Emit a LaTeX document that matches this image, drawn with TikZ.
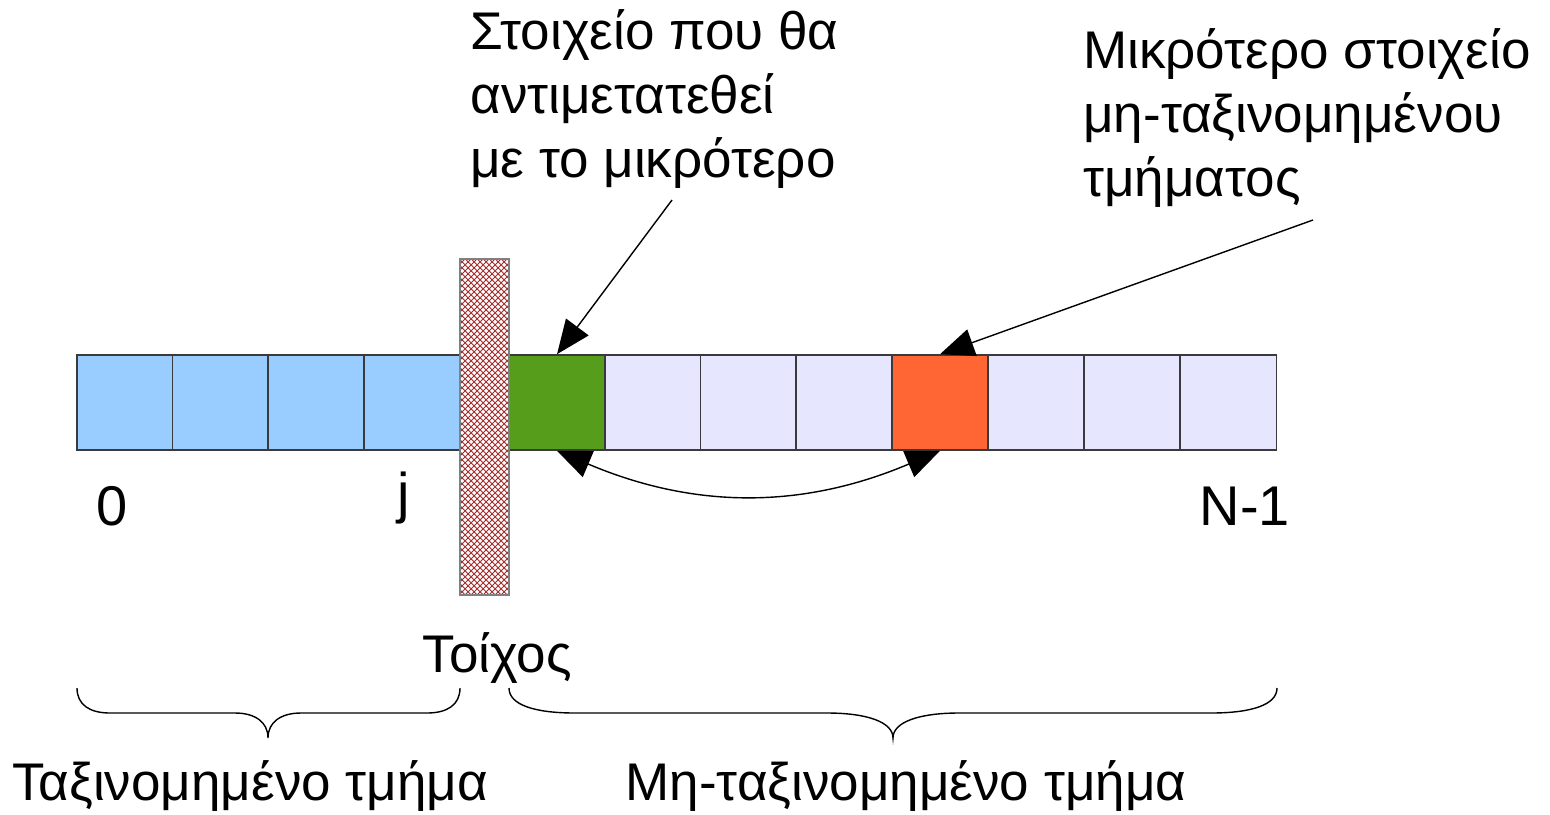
\documentclass[tikz,border=0pt]{standalone}
\usepackage{fontspec}
\setmainfont{Liberation Sans}
\usetikzlibrary{arrows.meta,patterns,positioning}
\definecolor{sortedblue}{HTML}{99CCFF}
\definecolor{unsortedlav}{HTML}{E6E6FF}
\definecolor{swapgreen}{HTML}{579D1C}
\definecolor{minorange}{HTML}{FF6633}
\definecolor{wallred}{HTML}{A52A2A}
\definecolor{cellborder}{HTML}{3A3A3A}
\tikzset{
  cell/.style={draw=cellborder, line width=0.8pt, minimum width=48pt, minimum height=47.5pt, inner sep=0pt},
  lbl/.style={inner sep=0pt, font=\fontsize{26.5}{32}\selectfont, align=left},
  idx/.style={inner sep=0pt, font=\fontsize{28}{32}\selectfont},
  part/.style={inner sep=0pt, font=\fontsize{26.5}{32}\selectfont},
  pointer/.style={line width=0.7pt, -{Triangle[length=17pt,width=14pt]}},
  swap/.style={line width=0.7pt, {Triangle[length=17pt,width=14pt]}-{Triangle[length=17pt,width=14pt]}},
  bracepath/.style={line width=0.7pt}
}
\begin{document}
\begin{tikzpicture}[x=0.5pt,y=-0.5pt]
\useasboundingbox (0,0) rectangle (1550,814);
% sorted part
\node[cell, fill=sortedblue] (s0) at (125,402.5) {};
\node[cell, fill=sortedblue] (s1) at (220.5,402.5) {};
\node[cell, fill=sortedblue] (s2) at (316,402.5) {};
\node[cell, fill=sortedblue] (s3) at (412,402.5) {};
% unsorted part
\node[cell, fill=swapgreen] (g) at (557,402.5) {};
\node[cell, fill=unsortedlav] (u1) at (653,402.5) {};
\node[cell, fill=unsortedlav] (u2) at (748.5,402.5) {};
\node[cell, fill=unsortedlav] (u3) at (844,402.5) {};
\node[cell, fill=minorange] (o) at (940,402.5) {};
\node[cell, fill=unsortedlav] (u5) at (1036,402.5) {};
\node[cell, fill=unsortedlav] (u6) at (1132,402.5) {};
\node[cell, fill=unsortedlav] (u7) at (1228.5,402.5) {};
% the wall
\node[draw=gray, line width=0.8pt, preaction={fill=white}, pattern=crosshatch, pattern color=wallred,
      minimum width=24.5pt, minimum height=168pt, inner sep=0pt] (wall) at (484.5,427) {};
% index labels
\node[idx, anchor=base] (i0) at (112,525) {0};
\node[idx, anchor=base] (ij) at (404,512) {j};
\node[idx, anchor=base] (in) at (1245,525) {N-1};
\node[part, anchor=base] (wl) at (497,672) {Τοίχος};
% annotations
\node[lbl, anchor=north west] (t1) at (470,9) {Στοιχείο που θα\\αντιμετατεθεί\\με το μικρότερο};
\node[lbl, anchor=north west] (t2) at (1083,28) {Μικρότερο στοιχείο\\μη-ταξινομημένου\\τμήματος};
\coordinate (p1) at (672,200);
\coordinate (p2) at (1313,220);
\draw[pointer] (p1) -- (g.north);
\draw[pointer] (p2) -- (o.north);
\draw[swap] (g.south) to[bend right=23] (o.south);
% braces
\draw[bracepath] (77,688) .. controls (77,705) and (90,713) .. (110,713) -- (235,713)
  .. controls (255,713) and (268,722) .. (268,738)
  .. controls (268,722) and (281,713) .. (301,713) -- (427,713)
  .. controls (447,713) and (460,705) .. (460,688);
\draw[bracepath] (509,688) .. controls (509,705) and (535,713) .. (575,713) -- (827,713)
  .. controls (867,713) and (893,722) .. (893,738)
  .. controls (893,722) and (919,713) .. (959,713) -- (1211,713)
  .. controls (1251,713) and (1277,705) .. (1277,688);
\node[part, anchor=base] (b1) at (250,800) {Ταξινομημένο τμήμα};
\node[part, anchor=base] (b2) at (906,800) {Μη-ταξινομημένο τμήμα};
\end{tikzpicture}
\end{document}
